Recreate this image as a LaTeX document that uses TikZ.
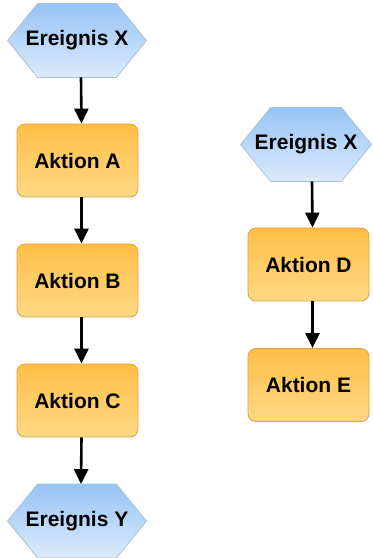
\documentclass[tikz,border=0pt]{standalone}
\usepackage{fontspec}
\setmainfont{Liberation Sans}
\usetikzlibrary{arrows.meta}
\definecolor{aktiontop}{HTML}{FFBF47}
\definecolor{aktionbot}{HTML}{FFD884}
\definecolor{aktionrand}{HTML}{DDA040}
\definecolor{ereignistop}{HTML}{96C3F5}
\definecolor{ereignisbot}{HTML}{DDEBFC}
\definecolor{ereignisrand}{HTML}{A8C0DC}
\tikzset{
  beschriftung/.style={font=\fontsize{10.5}{12}\selectfont\bfseries},
  aktion/.style={beschriftung, draw=aktionrand, line width=.4pt, rounded corners=4pt,
    top color=aktiontop, bottom color=aktionbot,
    minimum width=60.5pt, minimum height=36.5pt},
  ereignisbox/.style={minimum height=36.5pt, inner sep=0pt},
  ereignisform/.style={draw=ereignisrand, line width=.4pt,
    top color=ereignistop, bottom color=ereignisbot},
  pfeil/.style={line width=1.3pt, -{Triangle[width=7pt,length=7.5pt]}}
}
% Sechseck: Name, Position, Breite, Text
\newcommand{\ereignis}[4]{%
  \node[ereignisbox, minimum width=#3] (#1) at #2 {};
  \draw[ereignisform] (#1.west) -- ([xshift=15pt]#1.north west)
    -- ([xshift=-15pt]#1.north east) -- (#1.east)
    -- ([xshift=-15pt]#1.south east) -- ([xshift=15pt]#1.south west) -- cycle;
  \node[beschriftung] at (#1) {#4};}
\begin{document}
\begin{tikzpicture}[x=.5pt, y=-.5pt]
\useasboundingbox (0,0) rectangle (372,558);
% linke Kette
\ereignis{ex1}{(77,40.5)}{69pt}{Ereignis X}
\node[aktion] (a) at (77.5,160.5) {Aktion A};
\node[aktion] (b) at (77.5,280.5) {Aktion B};
\node[aktion] (c) at (77.5,400.5) {Aktion C};
\ereignis{ey}{(77,521)}{69pt}{Ereignis Y}
% rechte Kette
\ereignis{ex2}{(306,144.5)}{65pt}{Ereignis X}
\node[aktion] (d) at (308.5,264.5) {Aktion D};
\node[aktion] (e) at (308.5,385) {Aktion E};
\draw[pfeil] ([xshift=2pt]ex1.south) -- ([xshift=2pt]a.north);
\draw[pfeil] ([xshift=2pt]a.south) -- ([xshift=2pt]b.north);
\draw[pfeil] ([xshift=2pt]b.south) -- ([xshift=2pt]c.north);
\draw[pfeil] ([xshift=2pt]c.south) -- ([xshift=2pt]ey.north);
\draw[pfeil] ([xshift=3pt]ex2.south) -- ([xshift=2pt]d.north);
\draw[pfeil] ([xshift=2pt]d.south) -- ([xshift=2pt]e.north);
\end{tikzpicture}
\end{document}
